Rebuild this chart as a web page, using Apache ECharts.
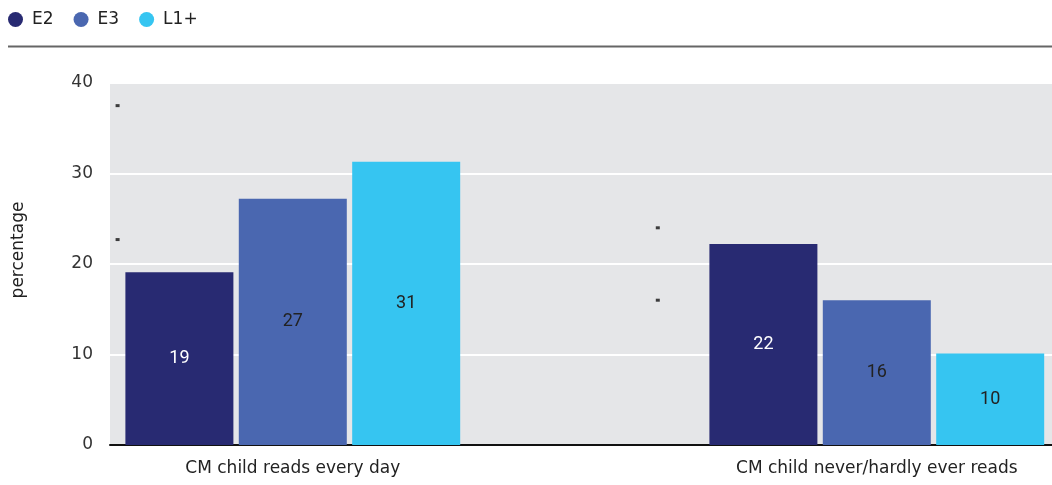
<!DOCTYPE html>
<html>
<head>
<meta charset="utf-8">
<script src="https://cdn.jsdelivr.net/npm/echarts@6/dist/echarts.min.js"></script>
<style>
  html, body { margin: 0; padding: 0; background: #fff; }
  #main { width: 1052px; height: 485px; }
</style>
</head>
<body>
<div id="main"></div>
<script>
// categories and values
var categories = ['CM child reads every day', 'CM child never/hardly ever reads'];
var seriesNames = ['E2', 'E3', 'L1+'];
var e2_vals = [19.1, 22.2];
var e3_vals = [27.2, 16.0];
var l1_vals = [31.3, 10.1];
var yTicks = [0, 10, 20, 30, 40];
// small stray marks in the plot (x in category units, y in percent)
var marks_x = [-0.30, -0.30, 0.625, 0.625];
var marks_y = [37.5, 22.7, 24.0, 16.0];

var colors = ['#282a72', '#4a67b0', '#36c5f1'];
var labelColors = ['#ffffff', '#222222', '#222222'];
var font = '"DejaVu Sans", sans-serif';
var numFont = 'Roboto, sans-serif';

function toPairs(vals){
    var out = [];
    for (var i = 0; i < vals.length; i++) {
        out.push([i, vals[i]]);
    }
    return out;
}

var allVals = [e2_vals, e3_vals, l1_vals];
var series = [];
for (var s = 0; s < seriesNames.length; s++) {
    series.push({
        name: seriesNames[s],
        type: 'bar',
        data: toPairs(allVals[s]),
        barWidth: 108,
        barGap: '5%',
        itemStyle: { color: colors[s] },
        label: {
            show: true,
            position: 'inside',
            color: labelColors[s],
            fontFamily: numFont,
            fontSize: 18,
            formatter: function (p) { return Math.round(p.value[1]); }
        }
    });
}

var markPts = [];
for (var i = 0; i < marks_x.length; i++) {
    markPts.push([marks_x[i], marks_y[i]]);
}
series.push({
    name: 'marks',
    type: 'scatter',
    data: markPts,
    symbol: 'rect',
    symbolSize: [4, 3],
    itemStyle: { color: '#111' },
    silent: true,
    z: 5
});

var mychart = echarts.init(document.getElementById('main'));
var option = {
    animation: false,
    textStyle: { fontFamily: font },
    legend: {
        data: seriesNames,
        left: 3,
        top: 6,
        icon: 'circle',
        itemWidth: 15,
        itemHeight: 15,
        itemGap: 20,
        textStyle: { fontFamily: font, fontSize: 17, color: '#222', padding: [0, 0, 0, 4] }
    },
    graphic: [{
        type: 'line',
        shape: { x1: 8, y1: 46.5, x2: 1052, y2: 46.5 },
        style: { stroke: '#666', lineWidth: 2 }
    }],
    grid: {
        left: 110,
        right: 0,
        top: 83,
        bottom: 40,
        show: true,
        backgroundColor: '#e5e6e8',
        borderWidth: 0
    },
    xAxis: {
        type: 'value',
        min: -0.313,
        max: 1.3,
        splitLine: { show: false },
        axisTick: { show: false },
        axisLine: { show: true, onZero: false, lineStyle: { color: '#111', width: 2 } },
        axisLabel: {
            customValues: [0, 1],
            margin: 15,
            fontFamily: font,
            fontSize: 17,
            color: '#222',
            formatter: function (v) { return categories[Math.round(v)]; }
        }
    },
    yAxis: {
        type: 'value',
        min: yTicks[0],
        max: yTicks[yTicks.length - 1],
        interval: 10,
        name: 'percentage',
        nameLocation: 'middle',
        nameGap: 83,
        nameTextStyle: { fontFamily: font, fontSize: 17, color: '#222', padding: [0, 0, 0, 28] },
        axisLine: { show: false },
        axisTick: { show: false },
        axisLabel: { margin: 17, fontFamily: font, fontSize: 17, color: '#333' },
        splitLine: { show: true, lineStyle: { color: '#ffffff', width: 2 } }
    },
    series: series
};
mychart.setOption(option);
</script>
</body>
</html>
